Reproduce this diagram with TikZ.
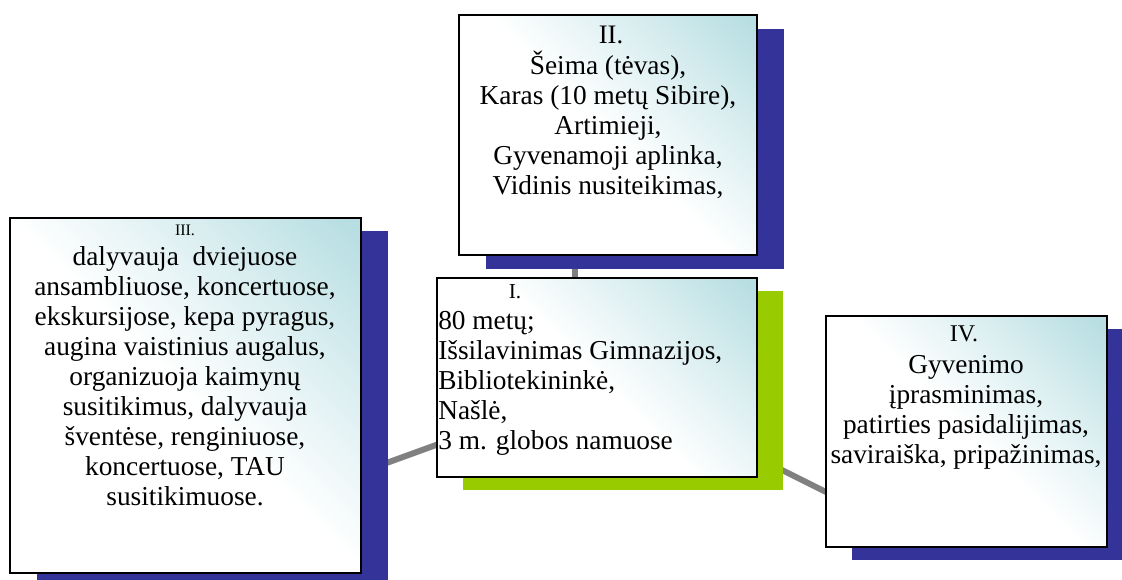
\documentclass[tikz,border=0pt]{standalone}
\usepackage{fontspec}
\setmainfont{Liberation Serif}
\definecolor{navyshadow}{RGB}{51,51,153}
\definecolor{limeshadow}{RGB}{153,204,0}
\definecolor{linkgray}{RGB}{128,128,128}
\definecolor{cyanish}{RGB}{183,222,226}
\definecolor{cyanmid}{RGB}{222,240,242}
\pgfdeclareverticalshading{boxgrad}{100bp}{color(0bp)=(white); color(50bp)=(white); color(66bp)=(cyanmid); color(84bp)=(cyanish); color(100bp)=(cyanish)}
\newcommand{\firstline}{\rule{0pt}{20pt}}
\begin{document}
\begin{tikzpicture}[x=0.75pt,y=-0.75pt,
  link/.style={draw=linkgray, line width=4.5pt},
  shadowblue/.style={fill=navyshadow, draw=none, inner sep=0pt},
  shadowgreen/.style={fill=limeshadow, draw=none, inner sep=0pt},
  mainbox/.style={draw=black, line width=1.5pt, inner sep=0pt, shade, shading=boxgrad, shading angle=-45},
  body/.style={font=\fontsize{20.5}{22.5}\selectfont, inner sep=0pt, align=center, anchor=north},
  head/.style={inner sep=0pt, anchor=base},
]
\useasboundingbox (0,0) rectangle (1122,580);
\fill[white] (0,0) rectangle (1122,580);

% connector end points
\coordinate (tA) at (575,300);
\coordinate (tB) at (575,240);
\coordinate (lA) at (480,429);
\coordinate (lB) at (370,469);
\coordinate (rA) at (740,449);
\coordinate (rB) at (840,499);
\draw[link] (tA) -- (tB);
\draw[link] (lA) -- (lB);
\draw[link] (rA) -- (rB);

% shadows
\node[shadowblue, minimum width=223.5pt, minimum height=180pt] (s2) at (635,149) {};
\node[shadowgreen, minimum width=240pt, minimum height=149.25pt] (s1) at (623,390.5) {};
\node[shadowblue, minimum width=263.25pt, minimum height=266.25pt] (s3) at (212.5,408.5) {};
\node[shadowblue, minimum width=210.75pt, minimum height=173.25pt] (s4) at (992.5,444.5) {};

% boxes
\node[mainbox, minimum width=223.5pt, minimum height=180pt] (b2) at (608,135) {};
\node[mainbox, minimum width=240pt, minimum height=149.25pt] (b1) at (597,377.5) {};
\node[mainbox, minimum width=263.25pt, minimum height=266.25pt] (b3) at (185.5,395.5) {};
\node[mainbox, minimum width=210.75pt, minimum height=173.25pt] (b4) at (966.5,431.5) {};

% box II
\node[head, font=\fontsize{20}{22}\selectfont] (h2) at (611,44) {II.};
\node[body] (x2) at (608,47.33) {\firstline Šeima (tėvas),\\Karas (10 metų Sibire),\\Artimieji,\\Gyvenamoji aplinka,\\Vidinis nusiteikimas,};

% box I
\node[head, font=\fontsize{16}{18}\selectfont] (h1) at (515,299) {I.};
\node[body, align=left, anchor=north west] (x1) at (438,302.33) {\firstline 80 metų;\\Išsilavinimas Gimnazijos,\\Bibliotekininkė,\\Našlė,\\3 m. globos namuose};

% box III
\node[head, font=\fontsize{12}{14}\selectfont] (h3) at (185,236) {III.};
\node[body] (x3) at (185,238.33) {\firstline dalyvauja~ dviejuose\\ansambliuose, koncertuose,\\ekskursijose, kepa pyragus,\\augina vaistinius augalus,\\organizuoja kaimynų\\susitikimus, dalyvauja\\šventėse, renginiuose,\\koncertuose, TAU\\susitikimuose.};

% box IV
\node[head, font=\fontsize{18}{20}\selectfont] (h4) at (964,342) {IV.};
\node[body] (x4) at (966,346.33) {\firstline Gyvenimo\\įprasminimas,\\patirties pasidalijimas,\\saviraiška, pripažinimas,};
\end{tikzpicture}
\end{document}
